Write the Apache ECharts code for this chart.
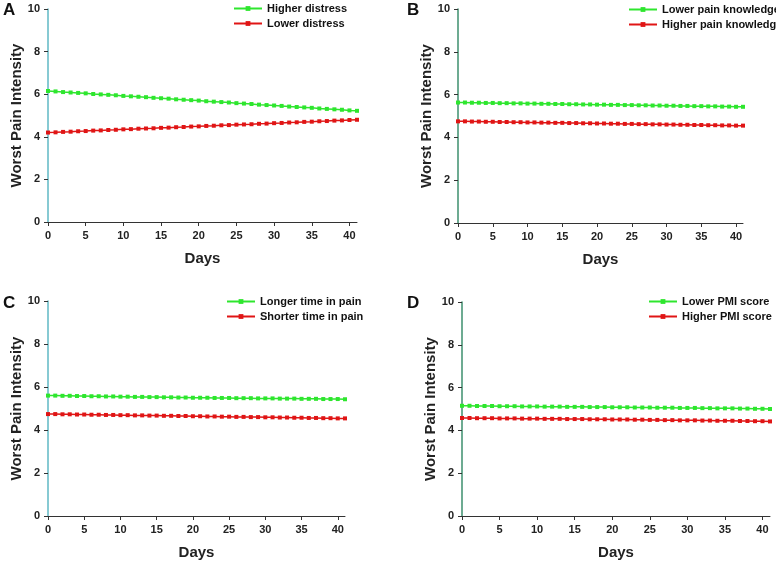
<!DOCTYPE html>
<html>
<head>
<meta charset="utf-8">
<script src="https://cdn.jsdelivr.net/npm/echarts@6/dist/echarts.min.js"></script>
<style>html,body{margin:0;padding:0;background:#fff}#c{width:776px;height:561px}</style>
</head>
<body>
<div id="c"></div>
<script>
var days = [0,1,2,3,4,5,6,7,8,9,10,11,12,13,14,15,16,17,18,19,20,21,22,23,24,25,26,27,28,29,30,31,32,33,34,35,36,37,38,39,40,41];
var xTicks = [0,5,10,15,20,25,30,35,40];
var yTicks = [0,2,4,6,8,10];

var panelLetters = ['A','B','C','D'];
var legendA = ['Higher distress','Lower distress'];
var legendB = ['Lower pain knowledge','Higher pain knowledge'];
var legendC = ['Longer time in pain','Shorter time in pain'];
var legendD = ['Lower PMI score','Higher PMI score'];

var aGreen = [6.15,6.13,6.10,6.08,6.06,6.04,6.01,5.99,5.97,5.95,5.92,5.90,5.88,5.86,5.83,5.81,5.79,5.76,5.74,5.72,5.70,5.67,5.65,5.63,5.61,5.58,5.56,5.54,5.51,5.49,5.47,5.45,5.42,5.40,5.38,5.36,5.33,5.31,5.29,5.27,5.24,5.22];
var aRed = [4.20,4.21,4.23,4.24,4.26,4.27,4.29,4.30,4.32,4.33,4.35,4.36,4.38,4.39,4.40,4.42,4.43,4.45,4.46,4.48,4.49,4.51,4.52,4.54,4.55,4.57,4.58,4.59,4.61,4.62,4.64,4.65,4.67,4.68,4.70,4.71,4.73,4.74,4.76,4.77,4.79,4.80];
var bGreen = [5.63,5.63,5.62,5.62,5.61,5.61,5.60,5.60,5.59,5.59,5.58,5.58,5.57,5.57,5.56,5.56,5.55,5.55,5.54,5.54,5.53,5.53,5.52,5.52,5.51,5.51,5.50,5.50,5.49,5.49,5.48,5.48,5.47,5.47,5.46,5.46,5.45,5.45,5.44,5.44,5.43,5.43];
var bRed = [4.75,4.75,4.74,4.74,4.73,4.73,4.72,4.72,4.71,4.71,4.70,4.70,4.69,4.69,4.68,4.68,4.67,4.67,4.66,4.66,4.65,4.65,4.64,4.64,4.63,4.63,4.62,4.62,4.61,4.61,4.60,4.60,4.59,4.59,4.58,4.58,4.57,4.57,4.56,4.56,4.55,4.55];
var cGreen = [5.60,5.60,5.59,5.59,5.58,5.58,5.57,5.57,5.56,5.56,5.55,5.55,5.54,5.54,5.53,5.53,5.52,5.52,5.51,5.51,5.50,5.50,5.50,5.49,5.49,5.49,5.48,5.48,5.48,5.47,5.47,5.47,5.46,5.46,5.46,5.45,5.45,5.45,5.44,5.44,5.44,5.43];
var cRed = [4.74,4.74,4.73,4.73,4.72,4.72,4.71,4.71,4.70,4.70,4.69,4.69,4.68,4.68,4.67,4.67,4.66,4.66,4.65,4.65,4.64,4.64,4.63,4.63,4.62,4.62,4.61,4.61,4.60,4.60,4.59,4.59,4.58,4.58,4.57,4.57,4.56,4.56,4.55,4.55,4.54,4.54];
var dGreen = [5.15,5.15,5.14,5.14,5.14,5.13,5.13,5.13,5.12,5.12,5.12,5.11,5.11,5.11,5.10,5.10,5.10,5.09,5.09,5.09,5.08,5.08,5.08,5.07,5.07,5.07,5.06,5.06,5.06,5.05,5.05,5.05,5.04,5.04,5.03,5.03,5.03,5.02,5.02,5.01,5.01,5.00];
var dRed = [4.58,4.58,4.57,4.57,4.57,4.56,4.56,4.56,4.55,4.55,4.55,4.54,4.54,4.54,4.53,4.53,4.53,4.52,4.52,4.52,4.51,4.51,4.51,4.50,4.50,4.49,4.49,4.48,4.48,4.47,4.47,4.47,4.46,4.46,4.45,4.45,4.45,4.44,4.44,4.43,4.43,4.42];

var FONT = '"Liberation Sans", Arial, sans-serif';
var GREEN = '#2ee62e';
var RED = '#e01515';

var panels = [
  {grid:{left:48, top:9, width:309, height:213}, yColor:'#5fb8c4', legend:legendA, g:aGreen, r:aRed, legPos:{left:233, top:3}, letter:{x:3, y:2}},
  {grid:{left:458, top:9, width:285, height:214}, yColor:'#3d8f6e', legend:legendB, g:bGreen, r:bRed, legPos:{left:628, top:4}, letter:{x:407, y:2}},
  {grid:{left:48, top:301, width:297, height:216}, yColor:'#5fb8c4', legend:legendC, g:cGreen, r:cRed, legPos:{left:226, top:296}, letter:{x:3, y:295}},
  {grid:{left:462, top:302, width:308, height:215}, yColor:'#3d8f6e', legend:legendD, g:dGreen, r:dRed, legPos:{left:648, top:296}, letter:{x:407, y:295}}
];

function pairs(v){ return days.map(function(d,i){ return [d, v[i]]; }); }

var option = {
  animation:false,
  backgroundColor:'#fff',
  grid:[], xAxis:[], yAxis:[], series:[], legend:[], graphic:[]
};

panels.forEach(function(p, k){
  option.grid.push(p.grid);
  option.xAxis.push({
    gridIndex:k, type:'value', min:0, max:41,
    name:'Days', nameLocation:'middle', nameGap:29,
    nameTextStyle:{fontFamily:FONT, fontWeight:'bold', fontSize:15, color:'#222'},
    axisLine:{show:true, lineStyle:{color:'#333', width:1}},
    axisTick:{show:true, length:4, customValues:xTicks, lineStyle:{color:'#333'}},
    axisLabel:{customValues:xTicks, fontFamily:FONT, fontWeight:'bold', fontSize:11, color:'#222', margin:8},
    splitLine:{show:false}
  });
  option.yAxis.push({
    gridIndex:k, type:'value', min:0, max:10, interval:2,
    name:'Worst Pain Intensity', nameLocation:'middle', nameGap:24,
    nameTextStyle:{fontFamily:FONT, fontWeight:'bold', fontSize:15, color:'#222'},
    axisLine:{show:true, lineStyle:{color:p.yColor, width:1.5}},
    axisTick:{show:true, length:4, lineStyle:{color:'#333'}},
    axisLabel:{fontFamily:FONT, fontWeight:'bold', fontSize:11, color:'#222', margin:8},
    splitLine:{show:false}
  });
  option.series.push({
    name:p.legend[0], type:'line', xAxisIndex:k, yAxisIndex:k, data:pairs(p.g),
    symbol:'rect', symbolSize:4, showSymbol:true,
    lineStyle:{color:GREEN, width:1.5}, itemStyle:{color:GREEN}
  });
  option.series.push({
    name:p.legend[1], type:'line', xAxisIndex:k, yAxisIndex:k, data:pairs(p.r),
    symbol:'rect', symbolSize:4, showSymbol:true,
    lineStyle:{color:RED, width:1.5}, itemStyle:{color:RED}
  });
  option.legend.push({
    data:p.legend, orient:'vertical', left:p.legPos.left, top:p.legPos.top,
    itemWidth:28, itemHeight:6, itemGap:4, padding:0,
    textStyle:{fontFamily:FONT, fontWeight:'bold', fontSize:11, color:'#111'}
  });
  option.graphic.push({
    type:'text', left:p.letter.x, top:p.letter.y,
    style:{text:panelLetters[k], font:'bold 17px ' + FONT, fill:'#111'}
  });
});

var chart = echarts.init(document.getElementById('c'), null, {renderer:'canvas'});
chart.setOption(option);
</script>
</body>
</html>
